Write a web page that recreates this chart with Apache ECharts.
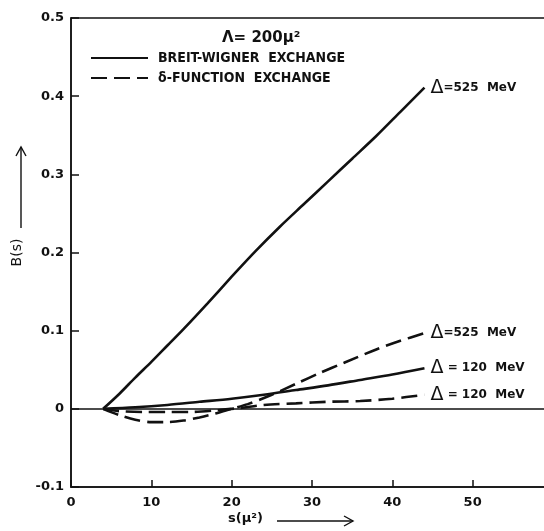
<!DOCTYPE html>
<html>
<head>
<meta charset="utf-8">
<script src="https://cdn.jsdelivr.net/npm/echarts@6/dist/echarts.min.js"></script>
<style>
  html, body { margin: 0; padding: 0; background: #fff; }
  #chart { width: 544px; height: 531px; }
</style>
</head>
<body>
<div id="chart"></div>
<script>
// s values (units of mu^2) and B(s)
const sBw525 = [4, 6, 8, 10, 12, 14, 17, 20, 23, 26, 29, 32, 35, 38, 41, 44];
const bBw525 = [0, 0.019, 0.040, 0.060, 0.081, 0.102, 0.135, 0.169, 0.202, 0.233, 0.262, 0.291, 0.320, 0.349, 0.380, 0.411];

const sBw120 = [4, 8, 12, 16, 20, 24, 28, 32, 36, 40, 44];
const bBw120 = [0, 0.002, 0.005, 0.009, 0.013, 0.018, 0.024, 0.030, 0.037, 0.044, 0.052];

const sDf525 = [4, 6, 8, 10, 12, 14, 16, 18, 20, 22, 25, 28, 31, 34, 38, 41, 44];
const bDf525 = [0, -0.008, -0.014, -0.017, -0.017, -0.015, -0.011, -0.006, 0, 0.006, 0.018, 0.032, 0.046, 0.059, 0.076, 0.087, 0.097];

const sDf120 = [4, 6, 9, 12, 15, 18, 21, 24, 28, 32, 36, 40, 44];
const bDf120 = [0, -0.003, -0.004, -0.004, -0.004, -0.002, 0.001, 0.005, 0.007, 0.009, 0.010, 0.013, 0.018];

const legendNames = ['BREIT-WIGNER  EXCHANGE', 'δ-FUNCTION  EXCHANGE'];
const endLabels = ['Δ=525  MeV', 'Δ=525  MeV', 'Δ = 120  MeV', 'Δ = 120  MeV'];

function pairs(xs, ys) {
    return xs.map(function (x, i) { return [x, ys[i]]; });
}

const ink = '#111';
const font = 'DejaVu Sans';

function curve(name, xs, ys, label, dashed) {
    return {
        name: name,
        type: 'line',
        smooth: 0.3,
        symbol: 'none',
        silent: true,
        lineStyle: { color: ink, width: 2.6, type: dashed ? [16, 7] : 'solid' },
        itemStyle: { color: ink },
        endLabel: {
            show: true,
            distance: 6,
            formatter: '{d|Δ}{t|' + label.slice(1) + '}',
            rich: {
                d: { fontSize: 19, color: ink, fontFamily: font },
                t: { fontSize: 12, fontWeight: 'bold', color: ink, fontFamily: font }
            }
        },
        data: pairs(xs, ys)
    };
}

let mychart = echarts.init(document.getElementById('chart'));
let option = {
    backgroundColor: '#fff',
    animation: false,
    title: {
        text: 'Λ= 200μ²',
        left: 222,
        top: 31,
        padding: 0,
        textStyle: { fontSize: 15, fontWeight: 'bold', color: ink, fontFamily: font }
    },
    legend: {
        data: legendNames,
        orient: 'vertical',
        left: 90,
        top: 51,
        padding: 0,
        itemWidth: 57,
        itemHeight: 14,
        itemGap: 6,
        selectedMode: false,
        itemStyle: { opacity: 0 },
        textStyle: {
            fontSize: 14, fontWeight: 'bold', color: ink,
            fontFamily: 'DejaVu Sans Condensed', padding: [0, 0, 0, 5]
        }
    },
    grid: {
        left: 71,
        right: -9,
        top: 18,
        bottom: 44,
        outerBoundsMode: 'none',
        containLabel: false,
        show: true,
        borderColor: ink,
        borderWidth: 1.5
    },
    xAxis: {
        type: 'value',
        min: 0,
        max: 60,
        interval: 10,
        axisLine: { onZero: false, lineStyle: { color: ink, width: 1.5 } },
        axisTick: { inside: true, length: 7, lineStyle: { color: ink, width: 1.5 } },
        axisLabel: { margin: 9, fontSize: 13, fontWeight: 'bold', color: ink, fontFamily: font },
        splitLine: { show: false }
    },
    yAxis: {
        type: 'value',
        min: -0.1,
        max: 0.5,
        interval: 0.1,
        name: 'B(s)',
        nameLocation: 'middle',
        nameRotate: 90,
        nameGap: 40,
        nameTextStyle: { fontSize: 14, color: ink, fontFamily: font },
        axisLine: { show: true, onZero: false, lineStyle: { color: ink, width: 1.5 } },
        axisTick: { inside: true, length: 8, lineStyle: { color: ink, width: 1.5 } },
        axisLabel: {
            margin: 7,
            fontSize: 13,
            fontWeight: 'bold',
            color: ink,
            fontFamily: font,
            formatter: function (v) {
                return Math.abs(v) < 1e-9 ? '0' : v.toFixed(1);
            }
        },
        splitLine: { show: false }
    },
    graphic: [
        // x axis title and arrow
        {
            type: 'text',
            left: 228,
            top: 512,
            style: { text: 's(μ²)', fontSize: 13, fontWeight: 'bold', fill: ink, fontFamily: font }
        },
        {
            type: 'polyline',
            shape: { points: [[277, 521], [353, 521]] },
            style: { stroke: ink, lineWidth: 1.4, fill: null }
        },
        {
            type: 'polyline',
            shape: { points: [[344, 516], [353, 521], [344, 526]] },
            style: { stroke: ink, lineWidth: 1.4, fill: null }
        },
        // y axis arrow
        {
            type: 'polyline',
            shape: { points: [[21, 228], [21, 147]] },
            style: { stroke: ink, lineWidth: 1.4, fill: null }
        },
        {
            type: 'polyline',
            shape: { points: [[16, 156], [21, 147], [26, 156]] },
            style: { stroke: ink, lineWidth: 1.4, fill: null }
        }
    ],
    series: [
        curve(legendNames[0], sBw525, bBw525, endLabels[0], false),
        curve(legendNames[1], sDf525, bDf525, endLabels[1], true),
        curve(legendNames[0], sBw120, bBw120, endLabels[2], false),
        curve(legendNames[1], sDf120, bDf120, endLabels[3], true),
        {
            type: 'line',
            data: [],
            silent: true,
            markLine: {
                silent: true,
                symbol: 'none',
                label: { show: false },
                lineStyle: { color: ink, width: 1.5, type: 'solid' },
                data: [{ yAxis: 0 }]
            }
        }
    ]
};
mychart.setOption(option);
window.addEventListener('resize', function () {
    mychart.resize();
});
</script>
</body>
</html>
